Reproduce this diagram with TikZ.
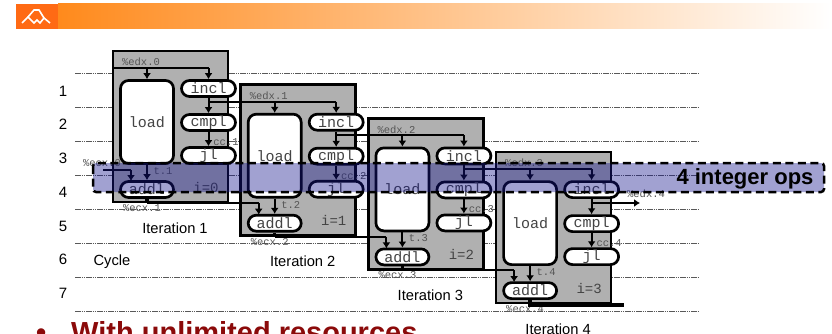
\documentclass[tikz,border=0pt]{standalone}
\usepackage{fontspec}
\setmainfont{Liberation Sans}
\setmonofont{Liberation Mono}
\usetikzlibrary{arrows.meta}
\definecolor{hdr}{HTML}{FF8A1C}
\definecolor{logo}{HTML}{FF6A14}
\definecolor{boxgrey}{HTML}{B0B0B0}
\definecolor{inktxt}{HTML}{444444}
\definecolor{smalltxt}{HTML}{555555}
\definecolor{bandblue}{RGB}{20,20,140}
\definecolor{bullred}{HTML}{8B0A0A}
\tikzset{
  itbox/.style={draw=black,line width=2.7pt,fill=boxgrey},
  unit/.style={draw=black,line width=2.7pt,fill=white,rounded corners=8pt,inner sep=0pt,font=\ttfamily\fontsize{15}{15}\selectfont,text=inktxt},
  pill/.style={unit,minimum width=54pt,minimum height=16pt},
  bigunit/.style={unit,minimum width=53pt,minimum height=83pt},
  addunit/.style={unit,minimum width=53pt,minimum height=16pt},
  flow/.style={line width=2pt,-{Latex[length=6pt,width=8pt]}},
  plain/.style={line width=2pt},
  heavy/.style={line width=3.5pt},
  tinylab/.style={font=\ttfamily\fontsize{10.5}{10.5}\selectfont,text=smalltxt,inner sep=0pt},
  idx/.style={font=\ttfamily\fontsize{14}{14}\selectfont,text=inktxt,inner sep=0pt},
  gridline/.style={line width=.6pt,black!65,dash pattern=on 1.5pt off .7pt},
  cyclab/.style={font=\fontsize{15}{15}\selectfont,inner sep=0pt,text=black,draw=none},
  itlab/.style={font=\fontsize{14.7}{14.7}\selectfont,inner sep=0pt},
}
\begin{document}
\begin{tikzpicture}[x=1pt,y=-1pt]
\path[use as bounding box,fill=white] (0,0) rectangle (832,334);
\clip (0,0) rectangle (832,334);
% header
\shade[left color=hdr,right color=white,shading angle=90] (58,4) rectangle (832,29);
\fill[logo] (16,4) rectangle (58,29);
\draw[white,line width=1.6pt] (22,23) -- (28,17) -- (34,23) -- (37,20) -- (40,23) -- (44,18) -- (50,23);
\draw[white,line width=1.6pt] (28,17) -- (34,10) -- (39,10) -- (44,18);
% grid lines
\foreach \yy in {73,107,141,175,209,243,277,311}
  \draw[gridline] (75,\yy) -- (698,\yy);
% row numbers
\foreach \n/\yy in {1/91,2/124,3/158,4/192,5/226,6/259,7/293}
  \node[cyclab] (row\n) at (63,\yy) {\n};
\node[itlab] (cyclelab) at (112,262) {Cycle};
% iteration boxes
\foreach \i in {0,1,2,3}{
  \begin{scope}[shift={(\i*127.7,\i*33.7)}]
    \draw[itbox] (113,51) rectangle (228,202);
  \end{scope}
}
% units
\foreach \i/\j in {0/1,1/2,2/3,3/4}{
  \begin{scope}[shift={(\i*127.7,\i*33.7)}]
    \node[bigunit] (load\i) at (147,122) {load};
    \node[pill] (incl\i) at (208.5,88.5) {incl};
    \node[pill] (cmpl\i) at (208.5,122.5) {cmpl};
    \node[pill] (jl\i) at (208.5,155.5) {jl};
    \node[addunit] (addl\i) at (147,189.5) {addl};
    \node[idx] (iv\i) at (206,187) {i=\i};
    \node[tinylab] (edx\i) at (141,62) {\%edx.\i};
    \node[tinylab] (tl\i) at (163,171) {t.\j};
    \node[tinylab] (cc\i) at (226,142) {cc.\j};
    \node[tinylab] (ecx\i) at (142,208) {\%ecx.\j};
    \node[itlab] (iter\i) at (175,228) {Iteration \j};
    \coordinate (addin\i) at (131,181);
    \coordinate (bus\i) at (147,68);
    \coordinate (rbus\i) at (208.5,68);
    \coordinate (obus\i) at (147,203);
    \draw[flow] (incl\i.south) -- (cmpl\i.north);
    \draw[flow] (cmpl\i.south) -- (jl\i.north);
    \draw[flow] (load\i.south) -- (addl\i.north);
  \end{scope}
}
% edx chain
\coordinate (edxstart) at (113,68);
\draw[plain] (edxstart) -- (rbus0);
\draw[flow] (bus0) -- (load0.north);
\draw[flow] (rbus0) -- (incl0.north);
\foreach \i/\j in {0/1,1/2,2/3}{
  \draw[plain] (incl\i.south |- bus\j) -- (rbus\j);
  \draw[flow] (rbus\j) -- (incl\j.north);
  \draw[flow] (bus\j) -- (load\j.north);
}
% ecx chain
\coordinate (ecxstart) at (103,170);
\coordinate (ecxturn) at (addin0 |- ecxstart);
\draw[plain] (ecxstart) -- (ecxturn);
\draw[flow] (ecxturn) -- (addin0);
\foreach \i/\j in {0/1,1/2,2/3}{
  \draw[heavy] (addl\i.south) -- (obus\i);
  \draw[plain] (obus\i) -- (obus\i -| addin\j);
  \draw[flow] (obus\i -| addin\j) -- (addin\j);
}
% last outputs
\coordinate (ecxout) at (624,305);
\draw[heavy] (addl3.south) -- (addl3.south |- ecxout) -- (ecxout);
\coordinate (edxout) at (640,203);
\coordinate (edxturn) at (incl3.south |- edxout);
\draw[flow] (edxturn) -- (edxout);
\node[tinylab] (edx4) at (646,194) {\%edx.4};
\node[tinylab] (ecx0) at (102,163) {\%ecx.0};
% highlight band
\fill[bandblue,fill opacity=.4,rounded corners=3pt] (93,163) rectangle (824,192);
\draw[black,line width=2.5pt,dash pattern=on 8pt off 4.5pt,rounded corners=3pt] (93,163) rectangle (824,192);
\node[inner sep=0pt,font=\bfseries\fontsize{22}{22}\selectfont] (ops) at (745,179) {4 integer ops};
% bottom text
\node[inner sep=0pt,text=bullred,font=\bfseries\fontsize{29}{29}\selectfont,anchor=base west] (bul) at (71,342) {With unlimited resources};
\node[inner sep=0pt,text=bullred,font=\bfseries\fontsize{29}{29}\selectfont,anchor=base west] (bulmark) at (36,342) {•};
\end{tikzpicture}
\end{document}
